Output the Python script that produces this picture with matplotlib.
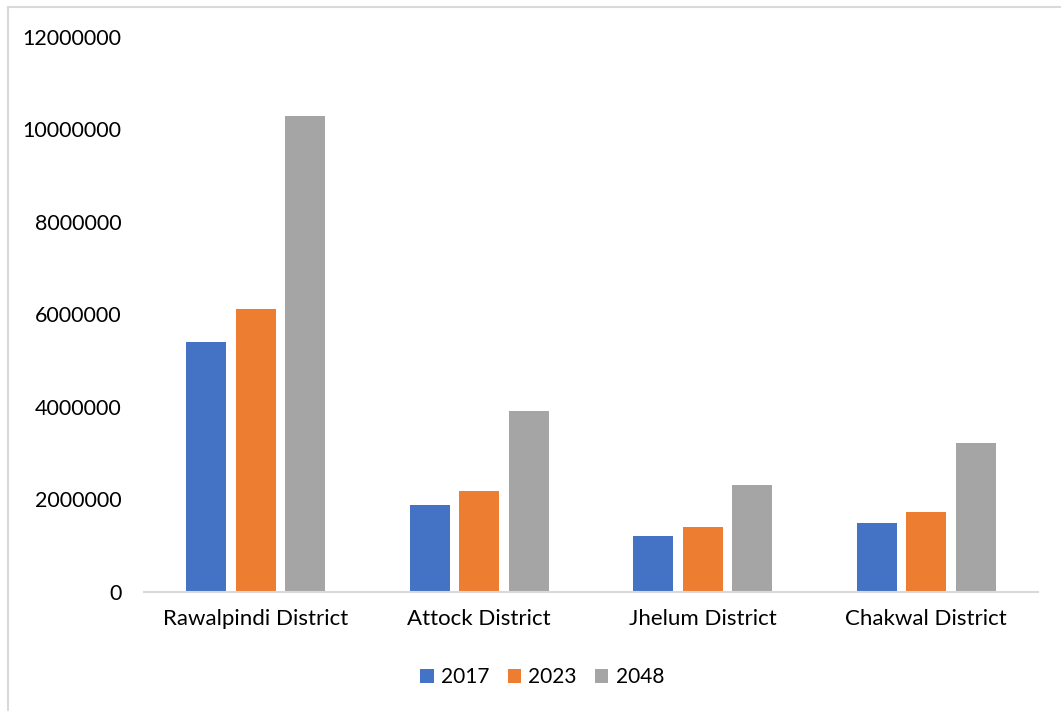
import numpy as np
import matplotlib
matplotlib.use("Agg")
import matplotlib.pyplot as plt
from matplotlib.lines import Line2D

plt.rcParams['font.family'] = ['Lato', 'DejaVu Sans']

# Data
districts = ["Rawalpindi District", "Attock District", "Jhelum District", "Chakwal District"]
pop_2017 = [5405000, 1880000, 1220000, 1500000]
pop_2023 = [6120000, 2180000, 1400000, 1740000]
pop_2048 = [10290000, 3910000, 2310000, 3230000]
years = ["2017", "2023", "2048"]
colors = ["#4472C4", "#ED7D31", "#A5A5A5"]

fig = plt.figure(figsize=(10.61, 7.11), dpi=100)
ax = fig.add_axes([0.1357, 0.1674, 0.8426, 0.7806])

x = np.arange(len(districts))
width = 0.177
step = 0.2215
for i, (vals, c, lab) in enumerate(zip([pop_2017, pop_2023, pop_2048], colors, years)):
    ax.bar(x + (i - 1) * step, vals, width, color=c, label=lab, zorder=2)

ax.set_xlim(-0.5, len(districts) - 0.5)
ax.set_ylim(0, 12000000)
ax.set_yticks(range(0, 12000001, 2000000))
ax.set_yticklabels([str(v) for v in range(0, 12000001, 2000000)])
ax.set_xticks(x)
ax.set_xticklabels(districts)

for s in ["top", "right", "left"]:
    ax.spines[s].set_visible(False)
ax.spines["bottom"].set_color("#D9D9D9")
ax.spines["bottom"].set_linewidth(1.5)
ax.tick_params(axis="both", length=0, colors="black")
ax.tick_params(axis="y", pad=16, labelsize=15.5)
ax.tick_params(axis="x", pad=12, labelsize=16)

ax.legend(loc="center", bbox_to_anchor=(0.511, 0.048), bbox_transform=fig.transFigure,
          ncol=3, frameon=False, fontsize=15, handlelength=0.65, handleheight=0.65,
          handletextpad=0.34, columnspacing=0.87)

# light chart border
fig.add_artist(Line2D([8 / 1061, 8 / 1061], [0, 1 - 7 / 711], color="#D9D9D9", lw=1.5))
fig.add_artist(Line2D([8 / 1061, 1], [1 - 7 / 711, 1 - 7 / 711], color="#D9D9D9", lw=1.5))

fig.savefig("out.png", dpi=100)
